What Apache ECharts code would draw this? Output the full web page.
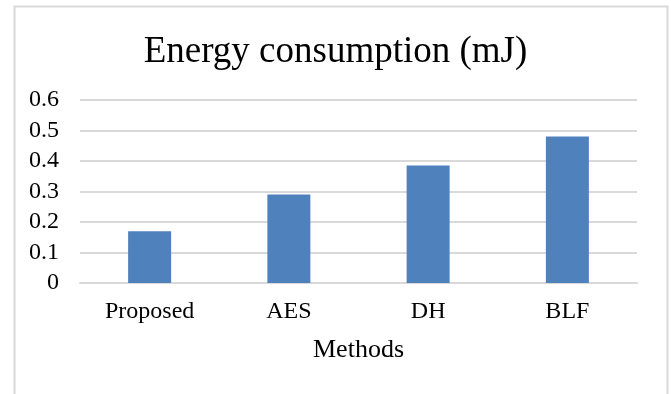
<!DOCTYPE html>
<html>
<head>
<meta charset="utf-8">
<script src="https://cdn.jsdelivr.net/npm/echarts@6/dist/echarts.min.js"></script>
<style>
  html, body { margin: 0; padding: 0; background: #fff; }
  #chart { width: 671px; height: 394px; }
</style>
</head>
<body>
<div id="chart"></div>
<script>
// Energy use per method
const methods = ['Proposed', 'AES', 'DH', 'BLF'];
const energyMJ = [0.17, 0.29, 0.385, 0.48];
const yTicks = [0, 0.1, 0.2, 0.3, 0.4, 0.5, 0.6];

const serif = '"Liberation Serif", "Times New Roman", serif';
const gridGray = '#d9d9d9';

const chart = echarts.init(document.getElementById('chart'), null, { renderer: 'canvas' });
chart.setOption({
  animation: false,
  backgroundColor: '#ffffff',
  graphic: [{
    type: 'rect',
    left: 12, top: 4,
    shape: { width: 653, height: 400 },
    style: { fill: 'none', stroke: gridGray, lineWidth: 2 },
    silent: true
  }],
  title: {
    text: 'Energy consumption (mJ)',
    left: 'center',
    top: 29,
    textStyle: { fontFamily: serif, fontSize: 37, fontWeight: 'normal', color: '#000' }
  },
  grid: { left: 80, right: 34, top: 100, bottom: 111 },
  xAxis: {
    type: 'category',
    data: methods,
    name: 'Methods',
    nameLocation: 'middle',
    nameGap: 54,
    nameTextStyle: { fontFamily: serif, fontSize: 26, color: '#000' },
    axisLine: { lineStyle: { color: gridGray, width: 2 } },
    axisTick: { show: false },
    axisLabel: { fontFamily: serif, fontSize: 24, color: '#000', margin: 17 }
  },
  yAxis: {
    type: 'value',
    min: yTicks[0],
    max: yTicks[yTicks.length - 1],
    interval: 0.1,
    axisLine: { show: false },
    axisTick: { show: false },
    splitLine: { lineStyle: { color: gridGray, width: 2 } },
    axisLabel: {
      fontFamily: serif, fontSize: 24, color: '#000', margin: 21,
      formatter: v => String(Math.round(v * 10) / 10)
    }
  },
  series: [{
    type: 'bar',
    data: energyMJ,
    barWidth: 43,
    itemStyle: { color: '#4f81bd' }
  }]
});
</script>
</body>
</html>
